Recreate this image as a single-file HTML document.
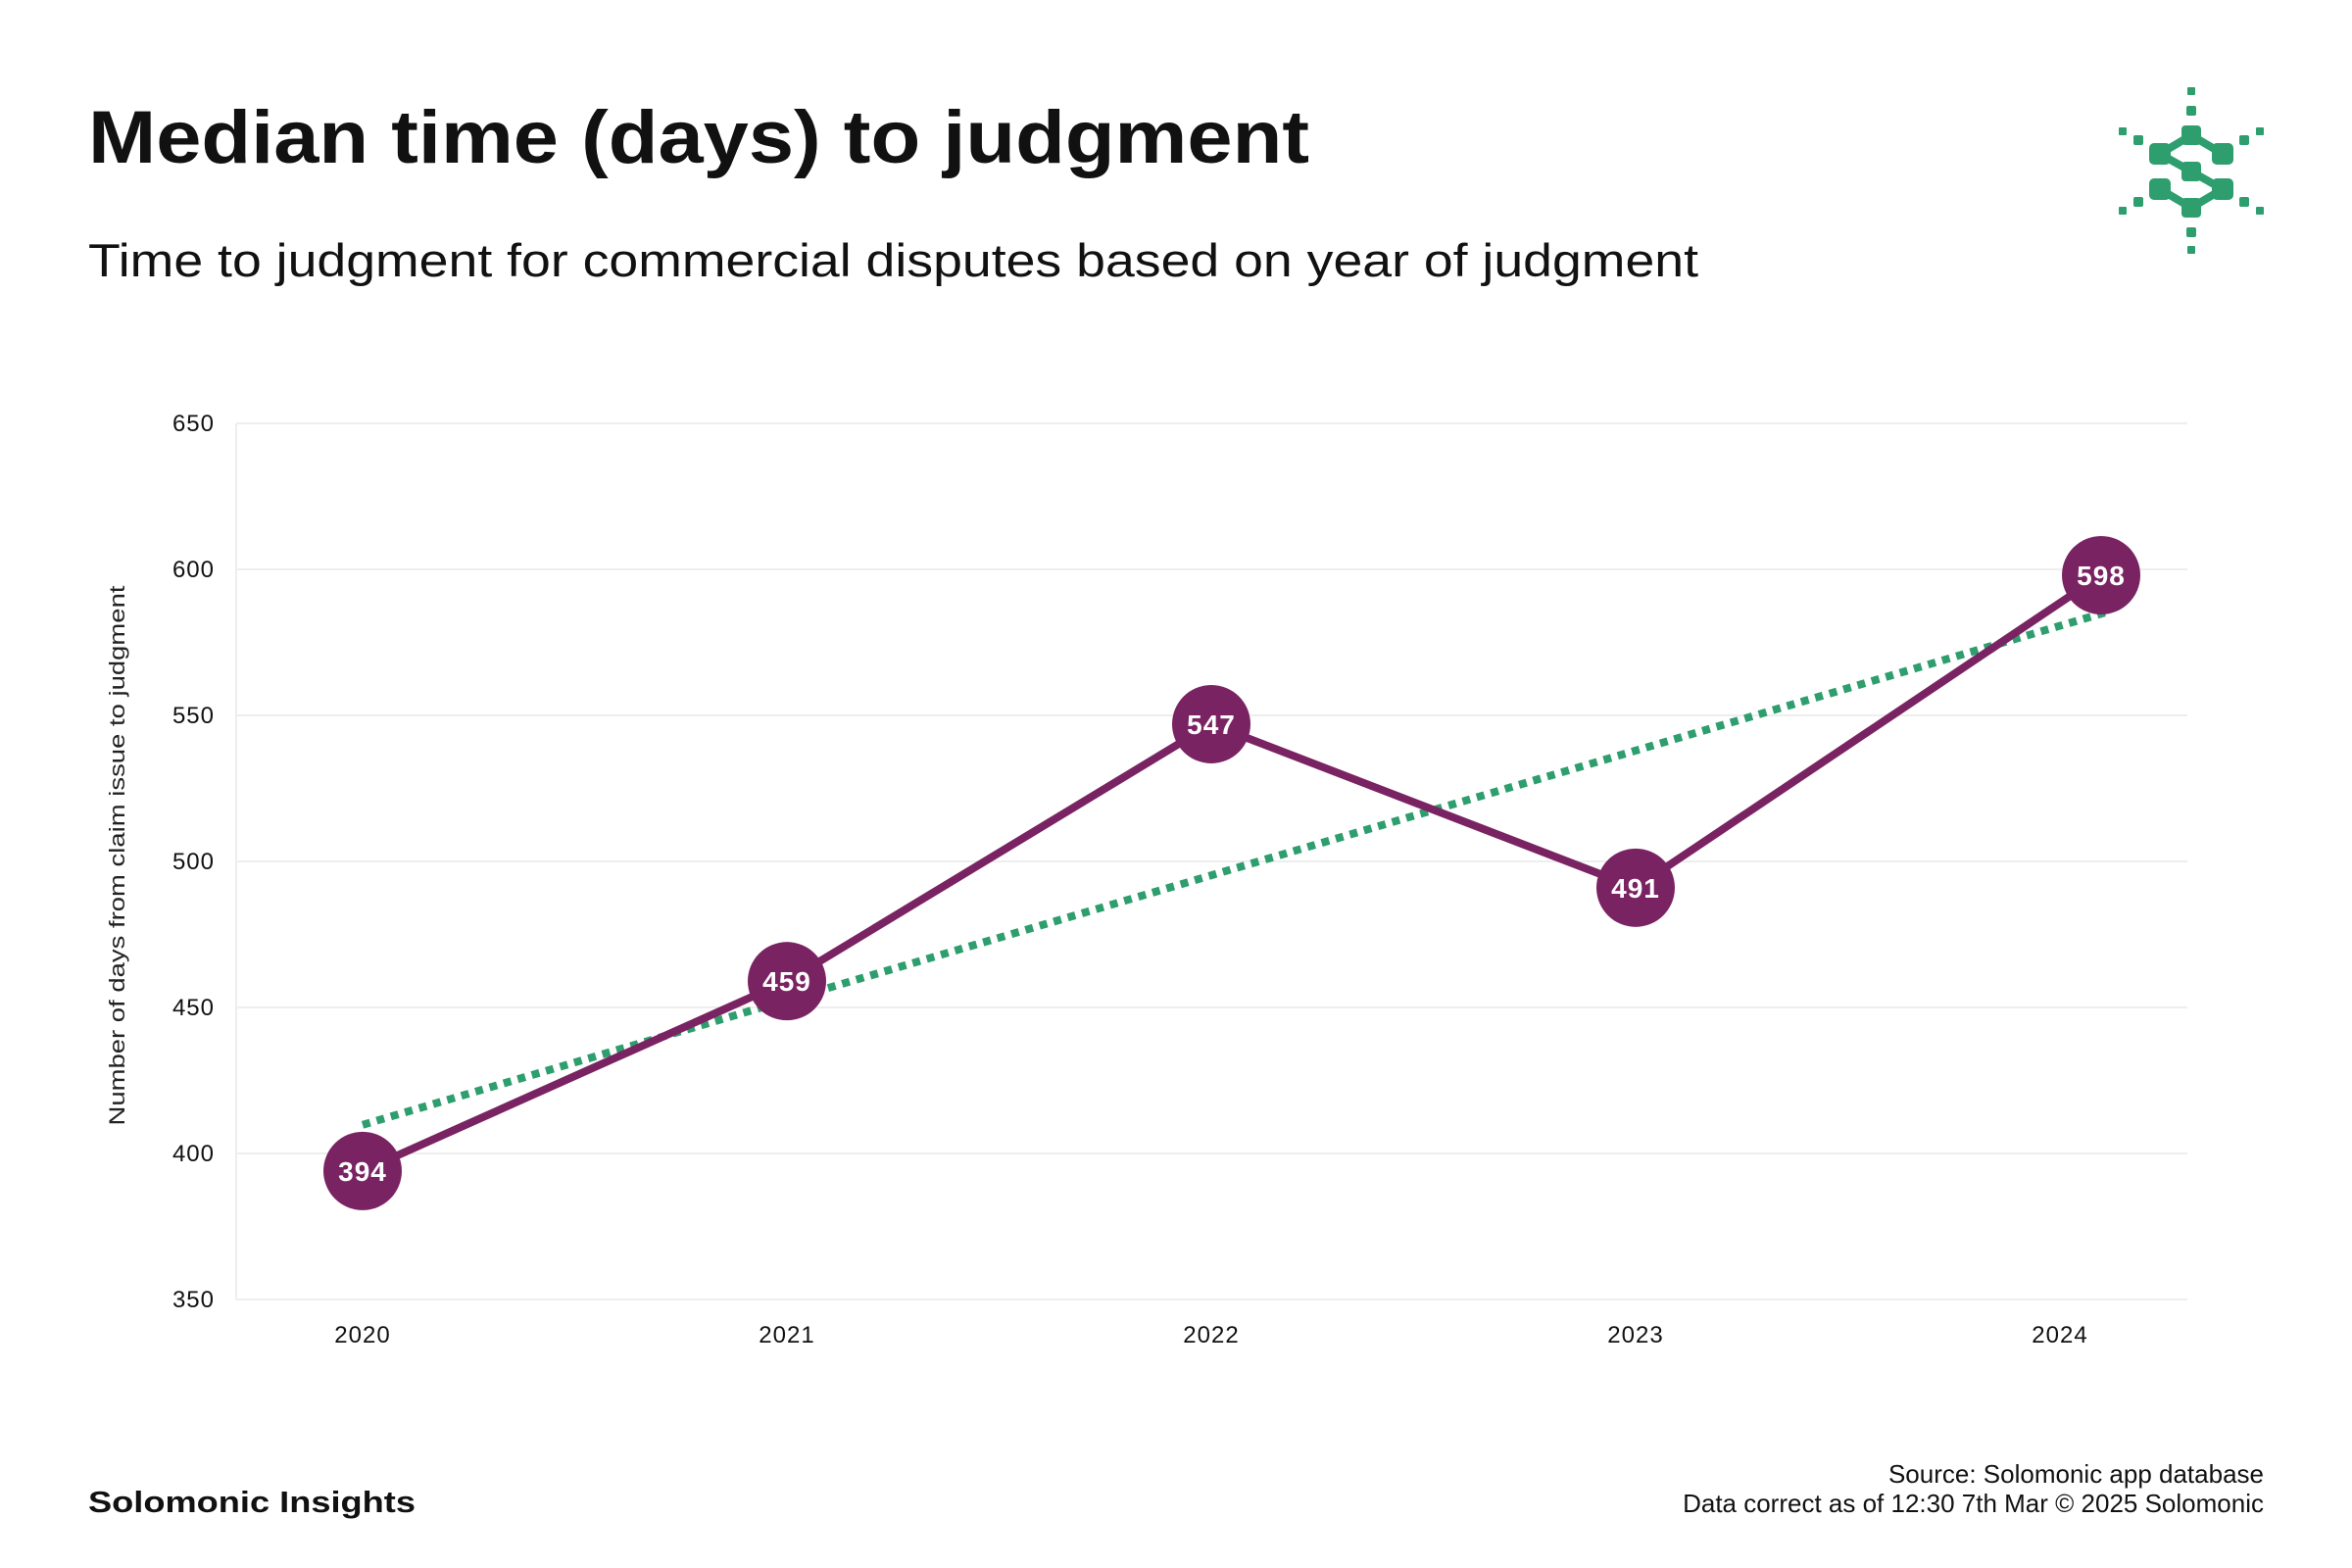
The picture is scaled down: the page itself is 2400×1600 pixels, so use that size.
<!DOCTYPE html>
<html><head><meta charset="utf-8"><style>
body{margin:0;background:#fff;width:2400px;height:1600px;overflow:hidden;font-family:"Liberation Sans",sans-serif}
svg{display:block}
</style></head><body>
<svg width="2400" height="1600" xmlns="http://www.w3.org/2000/svg" id="chart">
<text x="90" y="166" font-size="76" font-weight="bold" fill="#111" textLength="1246" lengthAdjust="spacingAndGlyphs">Median time (days) to judgment</text>
<text x="90" y="282" font-size="47" fill="#111" textLength="1643" lengthAdjust="spacingAndGlyphs">Time to judgment for commercial disputes based on year of judgment</text>
<g id="logo" fill="#2e9e6e" stroke="#2e9e6e">
<polyline points="2268,157 2236,138 2204,157 2236,175 2268,193 2236,212 2204,193" fill="none" stroke-width="8"/>
<g stroke="none">
<rect x="2226" y="128" width="20" height="20" rx="4"/><rect x="2193" y="146" width="22" height="22" rx="5"/><rect x="2257" y="146" width="22" height="22" rx="5"/>
<rect x="2226" y="165" width="20" height="20" rx="4"/><rect x="2193" y="182" width="22" height="22" rx="5"/><rect x="2257" y="182" width="22" height="22" rx="5"/>
<rect x="2226" y="202" width="20" height="20" rx="4"/>
<rect x="2232" y="89" width="8" height="8" rx="1"/><rect x="2231" y="108" width="10" height="10" rx="2"/>
<rect x="2231" y="232" width="10" height="10" rx="2"/><rect x="2232" y="251" width="8" height="8" rx="1"/>
<rect x="2177" y="138" width="10" height="10" rx="2"/><rect x="2162" y="130" width="8" height="8" rx="1"/>
<rect x="2285" y="138" width="10" height="10" rx="2"/><rect x="2302" y="130" width="8" height="8" rx="1"/>
<rect x="2177" y="201" width="10" height="10" rx="2"/><rect x="2162" y="211" width="8" height="8" rx="1"/>
<rect x="2285" y="201" width="10" height="10" rx="2"/><rect x="2302" y="211" width="8" height="8" rx="1"/>
</g></g>
<g id="grid"></g><g id="axes"></g><g id="series"></g>
<text transform="translate(127,873) rotate(-90)" text-anchor="middle" font-size="22" fill="#222" textLength="551" lengthAdjust="spacingAndGlyphs">Number of days from claim issue to judgment</text>
<text x="90" y="1543" font-size="31" font-weight="bold" fill="#111" textLength="334" lengthAdjust="spacingAndGlyphs">Solomonic Insights</text>
<text x="2310" y="1513" text-anchor="end" font-size="26" fill="#111">Source: Solomonic app database</text>
<text x="2310" y="1543" text-anchor="end" font-size="26" fill="#111">Data correct as of 12:30 7th Mar © 2025 Solomonic</text>
</svg>
<script>
const categories=["2020","2021","2022","2023","2024"];
const values=[394,459,547,491,598];
const yTicks=[350,400,450,500,550,600,650];
const NS="http://www.w3.org/2000/svg";
const L=241,R=2232,T=432,B=1326,yMin=350,yMax=650;
function y(v){return B-(v-yMin)/(yMax-yMin)*(B-T);}
function xTick(i){return 370+i*433;}
function xPt(i){return xTick(i)+(i===categories.length-1?42:0);}
function mk(tag,a,parent){const e=document.createElementNS(NS,tag);for(const k in a)e.setAttribute(k,a[k]);parent.appendChild(e);return e;}
const grid=document.getElementById('grid'),axes=document.getElementById('axes'),series=document.getElementById('series');
yTicks.forEach(t=>{
 const g=mk('line',{x1:L,x2:R,y1:y(t),y2:y(t),stroke:'#eeeeee','stroke-width':2},grid);
 
 
 const tx=mk('text',{x:219,y:y(t)+8,'text-anchor':'end','font-size':24,fill:'#111','letter-spacing':'1'},axes);
 tx.textContent=t;
 
 
});
const ax=mk('line',{x1:L,x2:L,y1:T,y2:B,stroke:'#eeeeee','stroke-width':2},axes);


categories.forEach((c,i)=>{
 const tx=mk('text',{x:xTick(i),y:1370,'text-anchor':'middle','font-size':24,fill:'#111','letter-spacing':'1'},axes);
 tx.textContent=c;
 
 
});
const n=values.length;let mx=(n-1)/2,my=values.reduce((a,b)=>a+b,0)/n,num=0,den=0;
values.forEach((v,i)=>{num+=(i-mx)*(v-my);den+=(i-mx)*(i-mx);});
const slope=num/den,ic=my-slope*mx;
const tr=mk('line',{x1:xPt(0),y1:y(ic),x2:xPt(n-1)+10,y2:y(ic+slope*(n-1)),stroke:'#2e9e6e','stroke-width':8,'stroke-dasharray':'8 7'},series);


const pl=mk('polyline',{points:values.map((v,i)=>xPt(i)+','+y(v)).join(' '),fill:'none',stroke:'#7a2363','stroke-width':8,'stroke-linejoin':'round'},series);


values.forEach((v,i)=>{
 const c=mk('circle',{cx:xPt(i),cy:y(v),r:40,fill:'#7a2363'},series);
 
 
 const t=mk('text',{x:xPt(i),y:y(v)+10,'text-anchor':'middle','font-size':28,'font-weight':'bold',fill:'#fff','letter-spacing':'1'},series);
 t.textContent=v;
 
 
});
</script>
</body></html>
